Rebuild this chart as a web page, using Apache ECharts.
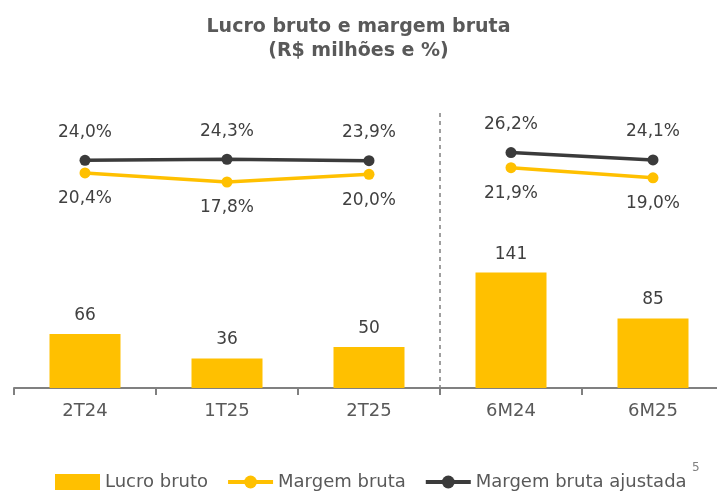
<!DOCTYPE html>
<html>
<head>
<meta charset="utf-8">
<script src="https://cdn.jsdelivr.net/npm/echarts@6/dist/echarts.min.js"></script>
<style>
  html, body { margin: 0; padding: 0; background: #fff; }
  #chart { width: 717px; height: 495px; }
</style>
</head>
<body>
<div id="chart"></div>
<script>
const categories = ['2T24', '1T25', '2T25', '6M24', '6M25'];
const lucroBruto = [66, 36, 50, 141, 85];
// two segments per line: quarters and semesters are not joined
const margemBrutaTri = [20.4, 17.8, 20.0, null, null];
const margemBrutaSem = [null, null, null, 21.9, 19.0];
const margemAjustTri = [24.0, 24.3, 23.9, null, null];
const margemAjustSem = [null, null, null, 26.2, 24.1];

const yellow = '#FFC000';
const dark = '#3B3B3B';
const font = 'DejaVu Sans';
const barMax = 336;

const pct = (p) => p.value.toFixed(1).replace('.', ',') + '%';

function lineSeries(name, data, color, pos, dist) {
  return {
    name: name,
    type: 'line',
    yAxisIndex: 1,
    data: data,
    connectNulls: false,
    symbol: 'circle',
    symbolSize: 11,
    lineStyle: { width: 3.5, color: color },
    itemStyle: { color: color },
    label: {
      show: true,
      position: pos,
      distance: dist,
      formatter: pct,
      color: '#404040',
      fontSize: 17,
      fontFamily: font
    },
    z: 5
  };
}

const chart = echarts.init(document.getElementById('chart'));
chart.setOption({
  animation: false,
  title: {
    text: 'Lucro bruto e margem bruta\n(R$ milhões e %)',
    left: 'center',
    top: 10,
    textStyle: {
      fontSize: 19,
      fontWeight: 'bold',
      color: '#595959',
      fontFamily: font,
      lineHeight: 24
    }
  },
  legend: {
    top: 468,
    left: 50,
    itemWidth: 45,
    itemHeight: 16,
    itemGap: 18,
    lineStyle: { width: 4 },
    textStyle: { fontSize: 18, color: '#595959', fontFamily: font },
    data: [
      { name: 'Lucro bruto', icon: 'rect' },
      'Margem bruta',
      'Margem bruta ajustada'
    ]
  },
  grid: { left: 14, width: 710, top: 113, bottom: 107, outerBoundsMode: 'none' },
  xAxis: {
    type: 'category',
    data: categories,
    axisLine: { lineStyle: { color: '#808080', width: 2 } },
    axisTick: { show: true, length: 7, lineStyle: { color: '#808080', width: 2 } },
    axisLabel: { color: '#595959', fontSize: 18, fontFamily: font, margin: 14 }
  },
  yAxis: [
    { type: 'value', min: 0, max: barMax, show: false, splitLine: { show: false } },
    { type: 'value', min: -41, max: 37.5, show: false, splitLine: { show: false } }
  ],
  series: [
    {
      name: 'Lucro bruto',
      type: 'bar',
      data: lucroBruto,
      barWidth: 71,
      itemStyle: { color: yellow },
      label: {
        show: true,
        position: 'top',
        distance: 10,
        color: '#404040',
        fontSize: 17,
        fontFamily: font
      }
    },
    lineSeries('Margem bruta', margemBrutaTri, yellow, 'bottom', 12),
    lineSeries('Margem bruta', margemBrutaSem, yellow, 'bottom', 12),
    lineSeries('Margem bruta ajustada', margemAjustTri, dark, 'top', 14),
    lineSeries('Margem bruta ajustada', margemAjustSem, dark, 'top', 14)
  ]
});

// dashed separator between quarters and semesters, placed from the axes
const xa = chart.convertToPixel({ xAxisIndex: 0 }, '2T25');
const xb = chart.convertToPixel({ xAxisIndex: 0 }, '6M24');
const sepX = (xa + xb) / 2;
const yTop = chart.convertToPixel({ yAxisIndex: 0 }, barMax);
const yBot = chart.convertToPixel({ yAxisIndex: 0 }, 0);
chart.setOption({
  graphic: [
    {
      type: 'line',
      shape: { x1: sepX, y1: yTop, x2: sepX, y2: yBot },
      style: { stroke: '#808080', lineWidth: 1.5, lineDash: [4, 4] },
      z: 1
    },
    {
      type: 'text',
      left: 692,
      top: 462,
      style: { text: '5', fontSize: 12, fill: '#7f7f7f', fontFamily: font }
    }
  ]
});
</script>
</body>
</html>
